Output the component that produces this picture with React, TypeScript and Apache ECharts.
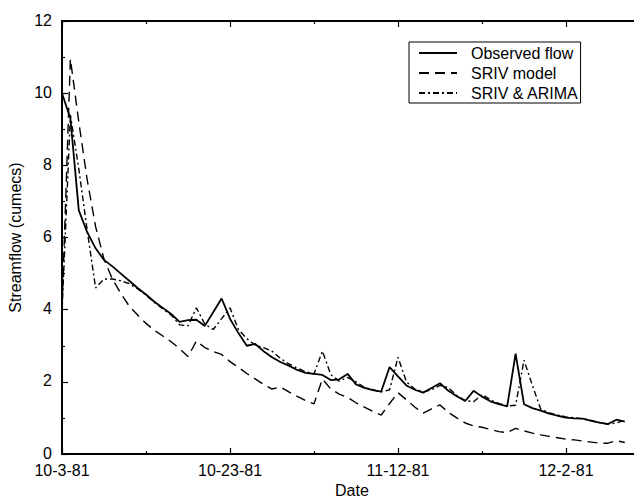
import React, { useEffect, useRef } from "react";
import * as echarts from "echarts";

// Days since 10-3-81
const days = [
  0, 1, 2, 3, 4, 5, 6, 7, 8, 9, 10, 11, 12, 13, 14, 15, 16, 17, 18, 19,
  20, 21, 22, 23, 24, 25, 26, 27, 28, 29, 30, 31, 32, 33, 34, 35, 36, 37, 38, 39,
  40, 41, 42, 43, 44, 45, 46, 47, 48, 49, 50, 51, 52, 53, 54, 55, 56, 57, 58, 59,
  60, 61, 62, 63, 64, 65, 66, 67,
];

const observedFlow = [
  10.0, 9.3, 6.75, 6.15, 5.7, 5.38, 5.2, 5.0, 4.8, 4.6,
  4.42, 4.22, 4.05, 3.88, 3.66, 3.71, 3.72, 3.55, 3.93, 4.31,
  3.75, 3.35, 3.0, 3.05, 2.85, 2.68, 2.55, 2.45, 2.33, 2.25,
  2.22, 2.19, 2.05, 2.07, 2.22, 1.93, 1.83, 1.77, 1.73, 2.41,
  2.15, 1.9, 1.78, 1.7, 1.83, 1.96, 1.75, 1.6, 1.47, 1.75,
  1.59, 1.46, 1.38, 1.32, 2.78, 1.38, 1.27, 1.2, 1.12, 1.06,
  1.01, 0.99, 0.98, 0.92, 0.87, 0.83, 0.95, 0.9,
];

const srivModel = [
  4.0, 10.95, 9.2, 7.6, 6.3, 5.4, 4.85, 4.45, 4.1, 3.85,
  3.62, 3.43, 3.27, 3.11, 2.92, 2.7, 3.13, 2.95, 2.84, 2.76,
  2.56, 2.4, 2.23, 2.08, 1.93, 1.8, 1.86, 1.72, 1.6, 1.48,
  1.39, 2.08, 1.8, 1.66, 1.57, 1.42, 1.3, 1.18, 1.08, 1.4,
  1.7, 1.5, 1.3, 1.13, 1.25, 1.36, 1.15, 1.0, 0.86, 0.78,
  0.74, 0.68, 0.62, 0.59, 0.71, 0.64, 0.58, 0.53, 0.49, 0.45,
  0.41, 0.39, 0.36, 0.33, 0.3, 0.3, 0.37, 0.32,
];

const srivArima = [
  3.9, 9.4, 7.9, 6.2, 4.6, 4.85, 4.85, 4.8, 4.72, 4.58,
  4.4, 4.2, 4.02, 3.85, 3.58, 3.55, 4.05, 3.6, 3.45, 3.75,
  4.05, 3.45, 3.2, 3.02, 2.95, 2.85, 2.65, 2.5, 2.38, 2.28,
  2.22, 2.85, 2.2, 2.02, 2.12, 2.0, 1.85, 1.78, 1.72, 1.78,
  2.68, 2.0, 1.8, 1.72, 1.78, 1.9, 1.84, 1.62, 1.48, 1.45,
  1.65, 1.5, 1.4, 1.33, 1.35, 2.6, 1.9, 1.24, 1.14, 1.08,
  1.03, 1.0, 0.98, 0.93, 0.87, 0.83, 0.86, 0.93,
];

const seriesNames = ["Observed flow", "SRIV model", "SRIV & ARIMA"];
const labelledDays = [0, 20, 40, 60];

const FONT = "Liberation Sans, Arial, Helvetica, sans-serif";

function dateLabel(d: number): string {
  if (labelledDays.indexOf(d) < 0) return "";
  const t = new Date(1981, 9, 3 + d);
  return `${t.getMonth() + 1}-${t.getDate()}-81`;
}

function pairs(vals: number[]) {
  return days.map((d, i) => [d, vals[i]]);
}

export default function App() {
  const ref = useRef<HTMLDivElement>(null);

  useEffect(() => {
    if (!ref.current) return;
    const chart = echarts.init(ref.current, undefined, { renderer: "svg" });

    const xCommon = {
      type: "value" as const,
      min: 0,
      max: 80,
      interval: 20,
      splitLine: { show: false },
      axisLine: { show: true, onZero: false, lineStyle: { color: "#000", width: 2 } },
      axisTick: { show: true, inside: true, length: 6, lineStyle: { color: "#000", width: 1.2 } },
      minorTick: { show: true, splitNumber: 2, length: 3, lineStyle: { color: "#000", width: 1.2 } },
    };

    chart.setOption({
      animation: false,
      backgroundColor: "#fff",
      textStyle: { fontFamily: FONT },
      grid: { left: 62, right: 0, top: 21, bottom: 43, containLabel: false, outerBoundsMode: "none" },
      legend: {
        orient: "vertical",
        left: 409,
        top: 42,
        data: seriesNames,
        itemWidth: 38,
        itemHeight: 14,
        itemGap: 4,
        padding: [3, 2, 2, 9],
        borderColor: "#000",
        borderWidth: 1,
        backgroundColor: "#fff",
        itemStyle: { opacity: 0 },
        textStyle: { fontSize: 16, color: "#000", fontFamily: FONT, lineHeight: 16, padding: [0, 0, 0, 9] },
      },
      xAxis: [
        {
          ...xCommon,
          position: "bottom",
          axisLabel: {
            show: true,
            formatter: (v: number) => dateLabel(v),
            color: "#000",
            fontSize: 16,
            fontFamily: FONT,
            margin: 8,
          },
        },
        {
          ...xCommon,
          position: "top",
          axisLabel: { show: false },
        },
      ],
      yAxis: [
        {
          type: "value",
          min: 0,
          max: 12,
          interval: 2,
          name: "Streamflow (cumecs)",
          nameLocation: "middle",
          nameGap: 37,
          nameTextStyle: { fontSize: 16, color: "#000", fontFamily: FONT },
          splitLine: { show: false },
          axisLine: { show: true, lineStyle: { color: "#000", width: 2 } },
          axisTick: { show: true, inside: true, length: 6, lineStyle: { color: "#000", width: 1.2 } },
          minorTick: { show: true, splitNumber: 2, length: 3, lineStyle: { color: "#000", width: 1.2 } },
          axisLabel: { color: "#000", fontSize: 16, fontFamily: FONT, margin: 10, verticalAlign: "bottom", padding: [0, 0, -7, 0] },
        },
      ],
      graphic: [
        {
          type: "text",
          left: 335,
          top: 482,
          style: { text: "Date", fontSize: 16, fontFamily: FONT, fill: "#000" },
        },
      ],
      series: [
        {
          name: seriesNames[0],
          type: "line",
          data: pairs(observedFlow),
          symbol: "none",
          lineStyle: { color: "#000", width: 1.8, type: "solid" },
          itemStyle: { color: "#000" },
          z: 3,
        },
        {
          name: seriesNames[1],
          type: "line",
          data: pairs(srivModel),
          symbol: "none",
          lineStyle: { color: "#000", width: 1.4, type: [10, 6] },
          itemStyle: { color: "#000" },
          z: 2,
        },
        {
          name: seriesNames[2],
          type: "line",
          data: pairs(srivArima),
          symbol: "none",
          lineStyle: { color: "#000", width: 1.4, type: [6, 3, 2, 3] },
          itemStyle: { color: "#000" },
          z: 2,
        },
      ],
    });

    return () => chart.dispose();
  }, []);

  return (
    <div style={{ position: "fixed", left: 0, top: 0, width: 660, height: 497, overflow: "hidden", background: "#fff" }}>
      <div ref={ref} style={{ width: 734, height: 497 }} />
    </div>
  );
}
